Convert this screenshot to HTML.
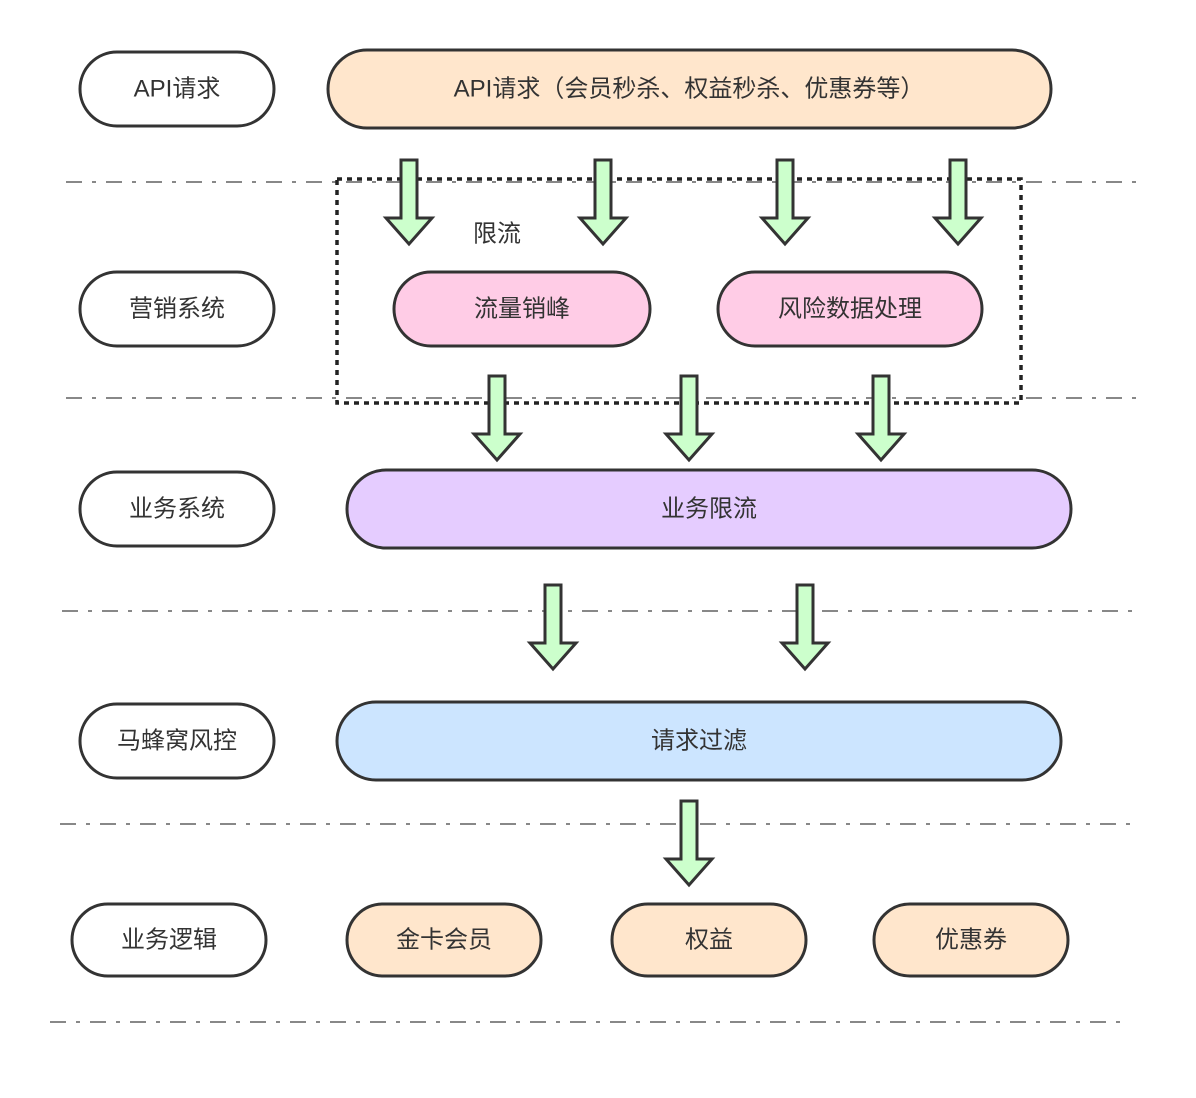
<!DOCTYPE html>
<html><head><meta charset="utf-8"><style>html,body{margin:0;padding:0;background:#fff}</style></head>
<body>
<svg width="1196" height="1093" viewBox="0 0 1196 1093" xmlns="http://www.w3.org/2000/svg" font-family="Liberation Sans, Noto Sans CJK SC, sans-serif" font-size="24" fill="#333">
<defs>
<symbol id="ar" viewBox="-24 -2 48 90" overflow="visible">
</symbol>
</defs>
<g stroke="#888" stroke-width="2" stroke-dasharray="16 10 4 10" fill="none">
<line x1="66" y1="182" x2="1136" y2="182"/>
<line x1="66" y1="398" x2="1136" y2="398"/>
<line x1="62" y1="611" x2="1133" y2="611"/>
<line x1="60" y1="824" x2="1130" y2="824"/>
<line x1="50" y1="1022" x2="1120" y2="1022"/>
</g>
<rect x="337" y="179" width="684" height="224" fill="none" stroke="#222" stroke-width="3.5" stroke-dasharray="5 5"/>
<g stroke="#333" stroke-width="3">
<rect x="80" y="52" width="194" height="74" rx="37" fill="#fff"/>
<rect x="80" y="272" width="194" height="74" rx="37" fill="#fff"/>
<rect x="80" y="472" width="194" height="74" rx="37" fill="#fff"/>
<rect x="80" y="704" width="194" height="74" rx="37" fill="#fff"/>
<rect x="72" y="904" width="194" height="72" rx="36" fill="#fff"/>
<rect x="328" y="50" width="723" height="78" rx="39" fill="#ffe6cc"/>
<rect x="394" y="272" width="256" height="74" rx="37" fill="#ffcce6"/>
<rect x="718" y="272" width="264" height="74" rx="37" fill="#ffcce6"/>
<rect x="347" y="470" width="724" height="78" rx="39" fill="#e5ccff"/>
<rect x="337" y="702" width="724" height="78" rx="39" fill="#cce5ff"/>
<rect x="347" y="904" width="194" height="72" rx="36" fill="#ffe6cc"/>
<rect x="612" y="904" width="194" height="72" rx="36" fill="#ffe6cc"/>
<rect x="874" y="904" width="194" height="72" rx="36" fill="#ffe6cc"/>
</g>
<g fill="#ccffcc" stroke="#333" stroke-width="3" stroke-linejoin="miter">
<path id="a" d="M-8,0 H8 V58 H23 L0,84 L-23,58 H-8 Z" transform="translate(409,160)"/>
<path d="M-8,0 H8 V58 H23 L0,84 L-23,58 H-8 Z" transform="translate(603,160)"/>
<path d="M-8,0 H8 V58 H23 L0,84 L-23,58 H-8 Z" transform="translate(785,160)"/>
<path d="M-8,0 H8 V58 H23 L0,84 L-23,58 H-8 Z" transform="translate(958,160)"/>
<path d="M-8,0 H8 V58 H23 L0,84 L-23,58 H-8 Z" transform="translate(497,376)"/>
<path d="M-8,0 H8 V58 H23 L0,84 L-23,58 H-8 Z" transform="translate(689,376)"/>
<path d="M-8,0 H8 V58 H23 L0,84 L-23,58 H-8 Z" transform="translate(881,376)"/>
<path d="M-8,0 H8 V58 H23 L0,84 L-23,58 H-8 Z" transform="translate(553,585)"/>
<path d="M-8,0 H8 V58 H23 L0,84 L-23,58 H-8 Z" transform="translate(805,585)"/>
<path d="M-8,0 H8 V58 H23 L0,84 L-23,58 H-8 Z" transform="translate(689,801)"/>
</g>
<g text-anchor="middle" dominant-baseline="central">
<text x="177" y="89">API请求</text>
<text x="177" y="309">营销系统</text>
<text x="177" y="509">业务系统</text>
<text x="177" y="741">马蜂窝风控</text>
<text x="169" y="940">业务逻辑</text>
<text x="689" y="89">API请求（会员秒杀、权益秒杀、优惠券等）</text>
<text x="497" y="234">限流</text>
<text x="522" y="309">流量销峰</text>
<text x="850" y="309">风险数据处理</text>
<text x="709" y="509">业务限流</text>
<text x="699" y="741">请求过滤</text>
<text x="444" y="940">金卡会员</text>
<text x="709" y="940">权益</text>
<text x="971" y="940">优惠券</text>
</g>
</svg>
</body></html>
